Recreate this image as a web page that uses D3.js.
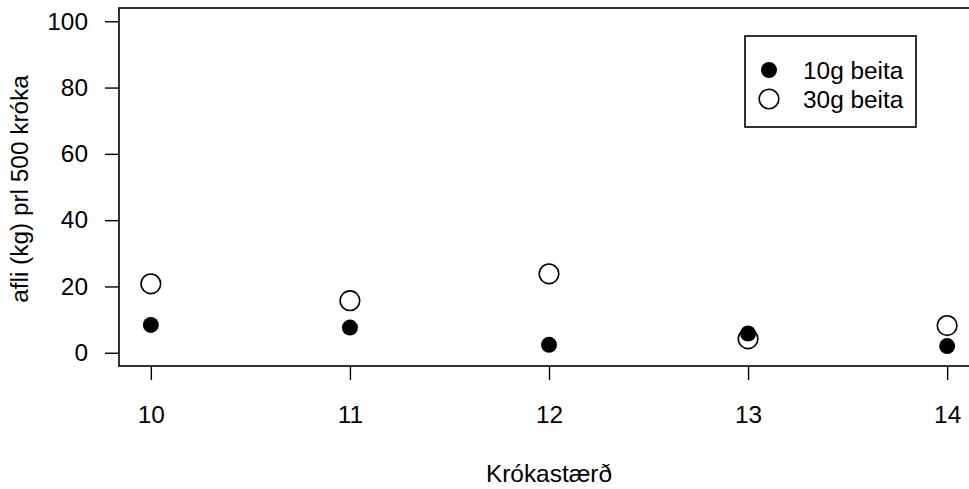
<!DOCTYPE html>
<html>
<head>
<meta charset="utf-8">
<script src="https://cdn.jsdelivr.net/npm/d3@7"></script>
<style>
  html, body { margin: 0; padding: 0; background: #fff; }
  svg { display: block; }
  text { font-family: "Liberation Sans", Arial, sans-serif; fill: #000; }
</style>
</head>
<body>
<svg id="chart" width="969" height="489"></svg>
<script>
// Hook size (x) and catch per 500 hooks for two bait sizes
const hookSizes = [10, 11, 12, 13, 14];
const bait10g = [8.4, 7.6, 2.4, 5.8, 2.0];
const bait30g = [20.8, 15.7, 23.8, 4.2, 8.2];
const xTicks = [10, 11, 12, 13, 14];
const yTicks = [0, 20, 40, 60, 80, 100];
const seriesNames = ["10g beita", "30g beita"];
const xTitle = "Krókastærð";
const yTitle = "afli (kg) prl 500 króka";

const svg = d3.select("#chart");
const fontSize = 24.4;

// Plot region with 4% padding on both axes
const x = d3.scaleLinear().domain([9.84, 14.16]).range([119, 979]);
const y = d3.scaleLinear().domain([-4, 104]).range([366, 8]);

// Box around plot region
svg.append("rect")
  .attr("x", x.range()[0]).attr("y", y.range()[1])
  .attr("width", x.range()[1] - x.range()[0])
  .attr("height", y.range()[0] - y.range()[1])
  .attr("fill", "none").attr("stroke", "#000").attr("stroke-width", 1.6);

// Axes
const xAxis = svg.append("g")
  .attr("transform", `translate(0,${y.range()[0]})`)
  .call(d3.axisBottom(x).tickValues(xTicks).tickFormat(d3.format("d"))
        .tickSize(14).tickPadding(26));
const yAxis = svg.append("g")
  .attr("transform", `translate(${x.range()[0]},0)`)
  .call(d3.axisLeft(y).tickValues(yTicks).tickFormat(d3.format("d"))
        .tickSize(14).tickPadding(17));
[xAxis, yAxis].forEach(g => {
  g.select(".domain").remove();
  g.selectAll(".tick line").attr("stroke", "#000").attr("stroke-width", 1.4);
  g.selectAll(".tick text")
    .attr("font-size", fontSize)
    .attr("font-family", "Liberation Sans, Arial, sans-serif")
    .attr("fill", "#000");
});

// Axis titles
svg.append("text")
  .attr("x", (x.range()[0] + x.range()[1]) / 2).attr("y", 482)
  .attr("text-anchor", "middle").attr("font-size", fontSize)
  .text(xTitle);
svg.append("text")
  .attr("transform", `translate(28,${(y.range()[0] + y.range()[1]) / 2 + 2}) rotate(-90)`)
  .attr("text-anchor", "middle").attr("font-size", fontSize)
  .text(yTitle);

// Points: open circles (30g) first, filled (10g) on top
svg.append("g").selectAll("circle")
  .data(hookSizes.map((h, i) => ({ h, v: bait30g[i] })))
  .join("circle")
  .attr("cx", d => x(d.h)).attr("cy", d => y(d.v))
  .attr("r", 9.8).attr("fill", "none")
  .attr("stroke", "#000").attr("stroke-width", 1.6);
svg.append("g").selectAll("circle")
  .data(hookSizes.map((h, i) => ({ h, v: bait10g[i] })))
  .join("circle")
  .attr("cx", d => x(d.h)).attr("cy", d => y(d.v))
  .attr("r", 8).attr("fill", "#000");

// Legend
const legend = svg.append("g");
legend.append("rect")
  .attr("x", 745).attr("y", 36).attr("width", 171).attr("height", 91)
  .attr("fill", "#fff").attr("stroke", "#000").attr("stroke-width", 1.6);
legend.append("circle").attr("cx", 769).attr("cy", 70).attr("r", 8).attr("fill", "#000");
legend.append("circle").attr("cx", 769).attr("cy", 99).attr("r", 9.8)
  .attr("fill", "none").attr("stroke", "#000").attr("stroke-width", 1.6);
seriesNames.forEach((name, i) => {
  legend.append("text")
    .attr("x", 803).attr("y", 79 + i * 29)
    .attr("font-size", fontSize)
    .text(name);
});
</script>
</body>
</html>
